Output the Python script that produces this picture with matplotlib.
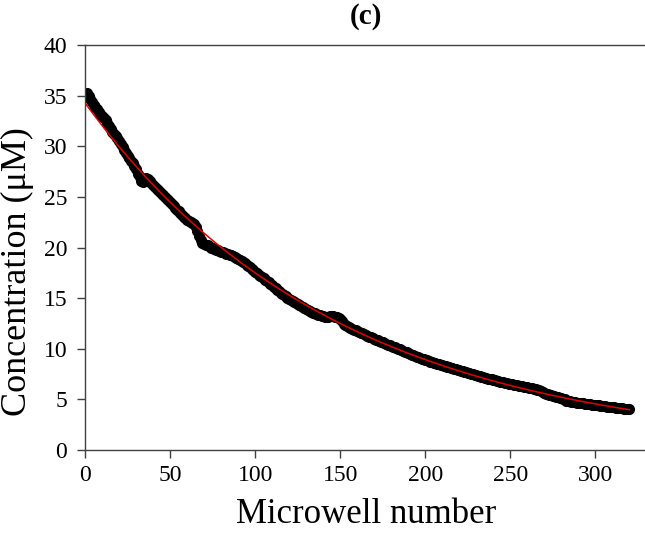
import numpy as np
import matplotlib
matplotlib.use("Agg")
import matplotlib.pyplot as plt

plt.rcParams['font.family'] = ['Liberation Serif', 'DejaVu Serif']

# measured concentration in each microwell (uM), wells 1..320
conc = [
    35.2, 35.0, 34.7, 34.4, 34.1, 33.9, 33.7, 33.4, 33.2, 33.0,
    32.8, 32.6, 32.3, 32.0, 31.7, 31.4, 31.2, 31.0, 30.8, 30.5,
    30.2, 29.9, 29.6, 29.3, 29.0, 28.8, 28.5, 28.3, 28.0, 27.7,
    27.3, 27.0, 26.6, 26.5, 26.6, 26.9, 26.8, 26.6, 26.4, 26.2,
    26.0, 25.8, 25.7, 25.5, 25.3, 25.2, 25.0, 24.8, 24.7, 24.5,
    24.3, 24.1, 23.9, 23.7, 23.6, 23.4, 23.2, 23.0, 22.9, 22.7,
    22.6, 22.5, 22.4, 22.3, 22.0, 21.6, 21.1, 20.7, 20.4, 20.3,
    20.2, 20.2, 20.1, 20.0, 20.0, 19.9, 19.8, 19.8, 19.7, 19.6,
    19.6, 19.5, 19.4, 19.4, 19.3, 19.3, 19.2, 19.1, 19.0, 18.9,
    18.8, 18.7, 18.6, 18.5, 18.3, 18.2, 18.1, 17.9, 17.8, 17.6,
    17.5, 17.3, 17.2, 17.1, 17.0, 16.8, 16.7, 16.6, 16.4, 16.3,
    16.1, 16.0, 15.8, 15.7, 15.5, 15.4, 15.3, 15.2, 15.0, 14.9,
    14.8, 14.7, 14.6, 14.5, 14.4, 14.3, 14.2, 14.1, 14.0, 13.9,
    13.8, 13.7, 13.6, 13.5, 13.5, 13.4, 13.3, 13.3, 13.2, 13.2,
    13.1, 13.1, 13.1, 13.2, 13.2, 13.2, 13.1, 13.1, 13.0, 12.9,
    12.7, 12.5, 12.4, 12.3, 12.2, 12.1, 12.0, 11.9, 11.9, 11.8,
    11.7, 11.6, 11.6, 11.5, 11.4, 11.3, 11.2, 11.2, 11.1, 11.0,
    10.9, 10.9, 10.8, 10.7, 10.7, 10.6, 10.5, 10.4, 10.4, 10.3,
    10.2, 10.2, 10.1, 10.0, 10.0, 9.9, 9.8, 9.7, 9.7, 9.6,
    9.5, 9.4, 9.4, 9.3, 9.2, 9.2, 9.1, 9.0, 9.0, 8.9,
    8.9, 8.8, 8.7, 8.7, 8.6, 8.6, 8.5, 8.5, 8.4, 8.4,
    8.3, 8.3, 8.2, 8.2, 8.1, 8.1, 8.0, 8.0, 7.9, 7.9,
    7.8, 7.8, 7.7, 7.7, 7.6, 7.6, 7.5, 7.5, 7.4, 7.4,
    7.3, 7.3, 7.2, 7.2, 7.1, 7.1, 7.0, 7.0, 7.0, 6.9,
    6.9, 6.8, 6.8, 6.7, 6.7, 6.7, 6.6, 6.6, 6.5, 6.5,
    6.5, 6.4, 6.4, 6.4, 6.3, 6.3, 6.3, 6.2, 6.2, 6.2,
    6.1, 6.1, 6.1, 6.0, 6.0, 5.9, 5.9, 5.8, 5.7, 5.6,
    5.5, 5.5, 5.4, 5.4, 5.3, 5.3, 5.2, 5.2, 5.1, 5.1,
    5.0, 5.0, 4.9, 4.9, 4.9, 4.8, 4.8, 4.8, 4.7, 4.7,
    4.7, 4.7, 4.7, 4.6, 4.6, 4.6, 4.6, 4.5, 4.5, 4.5,
    4.5, 4.5, 4.4, 4.4, 4.4, 4.4, 4.3, 4.3, 4.3, 4.3,
    4.3, 4.2, 4.2, 4.2, 4.2, 4.2, 4.1, 4.1, 4.1, 4.1,
]
wells = np.arange(1, len(conc) + 1)

xticks = [0, 50, 100, 150, 200, 250, 300]
yticks = [0, 5, 10, 15, 20, 25, 30, 35, 40]

# exponential trendline fitted to the measurements
slope, icpt = np.polyfit(wells, np.log(conc), 1)
xfit = np.linspace(0, wells[-1], 200)
yfit = np.exp(icpt) * np.exp(slope * xfit)

fig = plt.figure(figsize=(6.45, 5.34), dpi=100)
ax = fig.add_axes([0.132, 0.157, 0.870, 0.759])

ax.plot(wells, conc, 'o', color='black', markersize=8, markeredgewidth=0, zorder=2)
ax.plot(xfit, yfit, color='#e00000', lw=1.1, zorder=3)

ax.set_xlim(0, 330)
ax.set_ylim(0, 40)
ax.set_xticks(xticks)
ax.set_yticks(yticks)
ax.tick_params(direction='out', length=6, width=1, labelsize=17, color='#404040')
ax.tick_params(axis='x', pad=5)
ax.tick_params(axis='y', pad=7)
ax.spines['right'].set_visible(False)
for s in ['left', 'bottom', 'top']:
    ax.spines[s].set_color('#404040')
    ax.spines[s].set_linewidth(1)

ax.set_xlabel('Microwell number', fontsize=25, labelpad=8)
ax.set_ylabel('Concentration (\u03bcM)', fontsize=26)
ax.yaxis.set_label_coords(-0.092, 0.44)
ax.set_title('(c)', fontsize=21, fontweight='bold', pad=15)

fig.savefig('out.png', dpi=100)
